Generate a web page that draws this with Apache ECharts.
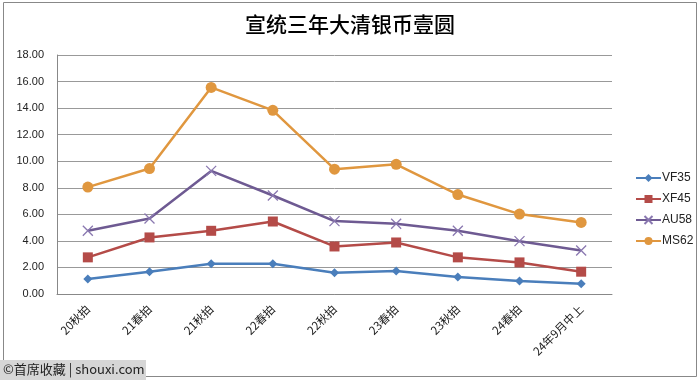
<!DOCTYPE html>
<html><head><meta charset="utf-8">
<script src="https://cdn.jsdelivr.net/npm/echarts@6/dist/echarts.min.js"></script>
<style>html,body{margin:0;padding:0;background:#fff}#c{width:700px;height:380px}</style>
</head><body><div id="c"></div>
<script>
const categories = ['20秋拍','21春拍','21秋拍','22春拍','22秋拍','23春拍','23秋拍','24春拍','24年9月中上'];
const vf35 = [1.13, 1.68, 2.28, 2.28, 1.60, 1.73, 1.28, 0.98, 0.78];
const xf45 = [2.76, 4.26, 4.76, 5.46, 3.58, 3.88, 2.76, 2.38, 1.68];
const au58 = [4.76, 5.69, 9.27, 7.42, 5.49, 5.29, 4.76, 3.98, 3.28];
const ms62 = [8.05, 9.45, 15.56, 13.83, 9.40, 9.77, 7.49, 6.02, 5.39];
const seriesNames = ['VF35','XF45','AU58','MS62'];
const titleText = '宣统三年大清银币壹圆';
const watermark = '©首席收藏 | shouxi.com';

const colors = ['#4a7ebb','#b44b48','#6e5a92','#e0973f'];
const chart = echarts.init(document.getElementById('c'));
const xPath = 'path://M0,0L10,10M10,0L0,10';
function mk(name, data, i, symbol, size, extra) {
  return Object.assign({
    name, type: 'line', data, symbol, symbolSize: size,
    showAllSymbol: true,
    color: colors[i],
    lineStyle: {width: 2.5, color: colors[i]},
    itemStyle: {color: colors[i]},
    emphasis: {disabled: true},
    animation: false
  }, extra || {});
}
chart.setOption({
  animation: false,
  title: {
    text: titleText, left: 'center', top: 9,
    textStyle: {fontFamily: 'Noto Sans CJK SC', fontSize: 21, fontWeight: 500, color: '#000'}
  },
  legend: {
    orient: 'vertical', left: 630, top: 167,
    itemWidth: 25, itemHeight: 10, itemGap: 9,
    data: seriesNames,
    textStyle: {fontFamily: 'Liberation Sans', fontSize: 12, color: '#222', padding: [0,0,0,-4]}
  },
  grid: {left: 57, right: 88, top: 55, bottom: 86},
  xAxis: {
    type: 'category', data: categories, boundaryGap: true,
    axisLine: {lineStyle: {color: '#888', width: 1}},
    axisTick: {show: false},
    axisLabel: {rotate: 45, margin: 13, interval: 0, fontFamily: 'Noto Sans CJK SC', fontSize: 11.5, color: '#222'}
  },
  yAxis: {
    type: 'value', min: 0, max: 18, interval: 2,
    axisLine: {show: true, lineStyle: {color: '#888', width: 1}},
    axisTick: {show: false},
    splitLine: {lineStyle: {color: '#999', width: 1}},
    axisLabel: {margin: 13, fontFamily: 'Liberation Sans', fontSize: 11, color: '#222', formatter: v => v.toFixed(2)}
  },
  series: [
    mk(seriesNames[0], vf35, 0, 'diamond', 9),
    mk(seriesNames[1], xf45, 1, 'rect', 10),
    mk(seriesNames[2], au58, 2, xPath, 10, {itemStyle: {color: 'rgba(0,0,0,0)', borderColor: '#8a78b0', borderWidth: 1.3}}),
    mk(seriesNames[3], ms62, 3, 'circle', 11)
  ],
  graphic: [
    {type: 'rect', shape: {x: 3.5, y: 2.5, width: 693, height: 374}, style: {fill: 'none', stroke: '#888', lineWidth: 1}, z: 100},
    {type: 'rect', shape: {x: 0, y: 360, width: 146, height: 20}, style: {fill: '#d6d6d6'}, z: 101},
    {type: 'text', x: 3, y: 363, style: {text: watermark, font: '13px "Noto Sans CJK SC"', fill: '#222'}, z: 102}
  ]
});
</script></body></html>
